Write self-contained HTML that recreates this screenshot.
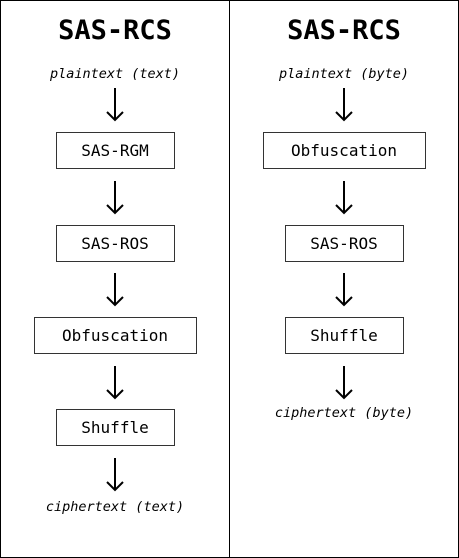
<!DOCTYPE html>
<html><head><style>
body{margin:0;background:#fff}
svg{display:block}
text{font-family:"DejaVu Sans Mono","Liberation Mono",monospace;fill:#000}
.t{font-size:27px;font-weight:bold}
.b{font-size:16px}
.i{font-size:13.5px;font-style:italic}
rect{fill:#fff;stroke:#333;stroke-width:1}
.a{stroke:#000;stroke-width:2;fill:none}
</style></head><body>
<svg width="459" height="558" viewBox="0 0 459 558">
<rect x="0.5" y="0.5" width="458" height="557" style="stroke:#000;fill:#fff"/>
<line x1="229.5" y1="0" x2="229.5" y2="558" stroke="#000" stroke-width="1"/>
<defs><g id="ar"><path class="a" d="M0 0V32M-8 24L0 32L8 24"/></g></defs>
<text class="t" x="115" y="39" text-anchor="middle">SAS-RCS</text>
<text class="i" x="115" y="78" text-anchor="middle">plaintext (text)</text>
<use href="#ar" x="115" y="88"/>
<rect x="56.5" y="132.5" width="118" height="36"/>
<text class="b" x="115" y="156" text-anchor="middle">SAS-RGM</text>
<use href="#ar" x="115" y="181"/>
<rect x="56.5" y="225.5" width="118" height="36"/>
<text class="b" x="115" y="249" text-anchor="middle">SAS-ROS</text>
<use href="#ar" x="115" y="273"/>
<rect x="34.5" y="317.5" width="162" height="36"/>
<text class="b" x="115" y="341" text-anchor="middle">Obfuscation</text>
<use href="#ar" x="115" y="366"/>
<rect x="56.5" y="409.5" width="118" height="36"/>
<text class="b" x="115" y="433" text-anchor="middle">Shuffle</text>
<use href="#ar" x="115" y="458"/>
<text class="i" x="115" y="511" text-anchor="middle">ciphertext (text)</text>
<text class="t" x="344" y="39" text-anchor="middle">SAS-RCS</text>
<text class="i" x="344" y="78" text-anchor="middle">plaintext (byte)</text>
<use href="#ar" x="344" y="88"/>
<rect x="263.5" y="132.5" width="162" height="36"/>
<text class="b" x="344" y="156" text-anchor="middle">Obfuscation</text>
<use href="#ar" x="344" y="181"/>
<rect x="285.5" y="225.5" width="118" height="36"/>
<text class="b" x="344" y="249" text-anchor="middle">SAS-ROS</text>
<use href="#ar" x="344" y="273"/>
<rect x="285.5" y="317.5" width="118" height="36"/>
<text class="b" x="344" y="341" text-anchor="middle">Shuffle</text>
<use href="#ar" x="344" y="366"/>
<text class="i" x="344" y="417" text-anchor="middle">ciphertext (byte)</text>
</svg>
</body></html>
